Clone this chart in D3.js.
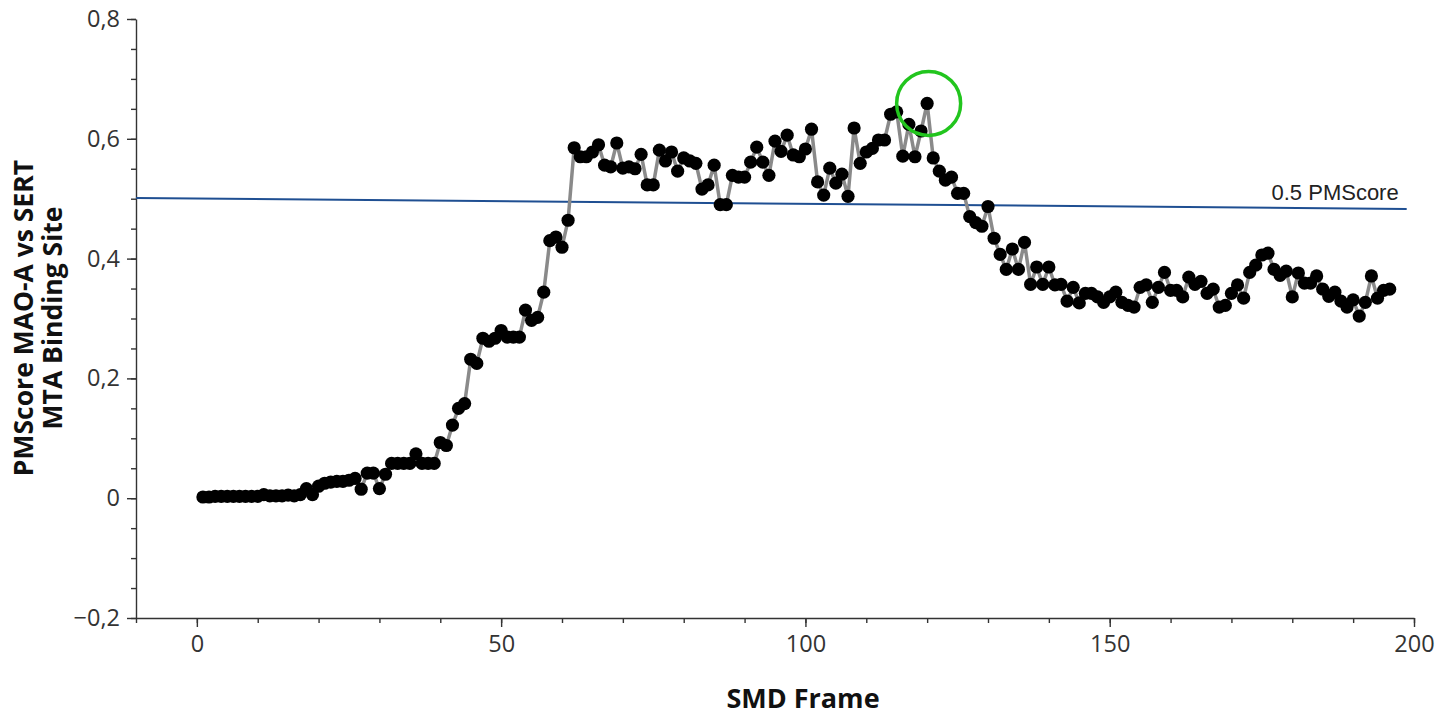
<!DOCTYPE html>
<html>
<head>
<meta charset="utf-8">
<script src="https://cdn.jsdelivr.net/npm/d3@7"></script>
<style>
  body { margin: 0; background: #fff; }
  svg text { font-family: "Open Sans", "Noto Sans", sans-serif; }
</style>
</head>
<body>
<div id="chart"></div>
<script>
// PMScore per SMD frame (frames 1..196)
const frames = d3.range(1, 197)
const scores = [
  0.002, 0.002, 0.003, 0.003, 0.003, 0.003, 0.003, 0.003, 0.003, 0.003,
  0.006, 0.004, 0.004, 0.004, 0.005, 0.004, 0.006, 0.016, 0.006, 0.020,
  0.025, 0.027, 0.028, 0.028, 0.030, 0.033, 0.015, 0.042, 0.042, 0.016,
  0.040, 0.058, 0.058, 0.058, 0.058, 0.074, 0.058, 0.058, 0.058, 0.093,
  0.088, 0.122, 0.150, 0.158, 0.232, 0.225, 0.267, 0.262, 0.267, 0.280,
  0.269, 0.269, 0.269, 0.314, 0.297, 0.302, 0.344, 0.430, 0.436, 0.419,
  0.464, 0.585, 0.570, 0.570, 0.578, 0.590, 0.556, 0.553, 0.593, 0.551,
  0.553, 0.550, 0.574, 0.523, 0.523, 0.581, 0.563, 0.578, 0.546, 0.568,
  0.563, 0.559, 0.516, 0.523, 0.556, 0.490, 0.490, 0.539, 0.536, 0.536,
  0.561, 0.586, 0.561, 0.539, 0.596, 0.579, 0.606, 0.573, 0.570, 0.583,
  0.616, 0.528, 0.506, 0.551, 0.526, 0.541, 0.504, 0.618, 0.559, 0.578,
  0.584, 0.598, 0.598, 0.641, 0.645, 0.571, 0.624, 0.570, 0.613, 0.659,
  0.568, 0.546, 0.531, 0.536, 0.509, 0.509, 0.470, 0.460, 0.454, 0.487,
  0.434, 0.407, 0.382, 0.416, 0.382, 0.427, 0.357, 0.386, 0.357, 0.386,
  0.356, 0.357, 0.329, 0.352, 0.326, 0.342, 0.342, 0.336, 0.327, 0.336,
  0.344, 0.327, 0.322, 0.319, 0.352, 0.356, 0.327, 0.352, 0.377, 0.347,
  0.347, 0.336, 0.369, 0.357, 0.362, 0.342, 0.349, 0.319, 0.322, 0.342,
  0.356, 0.334, 0.377, 0.389, 0.406, 0.409, 0.382, 0.372, 0.379, 0.336,
  0.376, 0.359, 0.359, 0.371, 0.349, 0.337, 0.344, 0.329, 0.319, 0.331,
  0.304, 0.327, 0.371, 0.334, 0.347, 0.349
]
// threshold line as drawn (slightly tilted in the original)
const refFrames = [-10, 198.8]
const refScores = [0.501, 0.483]
const refLabel = "0.5 PMScore"
const highlightFrame = 120

const yTicks = [-0.2, 0, 0.2, 0.4, 0.6, 0.8]
const xTicks = [0, 50, 100, 150, 200]

const width = 1453, height = 715

const svg = d3.select("#chart")
    .append("svg")
    .attr("width", width)
    .attr("height", height)

const x = d3.scaleLinear().domain([-10, 200]).range([136, 1414])
const y = d3.scaleLinear().domain([-0.2, 0.8]).range([618, 19])

const loc = d3.formatLocale({ decimal: ",", thousands: ".", grouping: [3], currency: ["", ""], minus: "\u2212" })
const fmt = loc.format(".1f")

// minor ticks first
svg.append("g")
    .attr("transform", "translate(0,618)")
    .call(d3.axisBottom(x).tickValues(d3.range(-10, 201, 10)).tickSize(5).tickFormat(""))
    .call(g => g.select(".domain").remove())
svg.append("g")
    .attr("transform", "translate(136,0)")
    .call(d3.axisLeft(y).tickValues(d3.range(-0.2, 0.801, 0.05)).tickSize(5).tickFormat(""))
    .call(g => g.select(".domain").remove())

// major axes
svg.append("g")
    .attr("transform", "translate(0,618)")
    .call(d3.axisBottom(x).tickValues(xTicks).tickSizeInner(9).tickSizeOuter(0).tickPadding(8))
svg.append("g")
    .attr("transform", "translate(136,0)")
    .call(d3.axisLeft(y).tickValues(yTicks).tickSizeInner(9).tickSizeOuter(0).tickPadding(7)
        .tickFormat(d => d === 0 ? "0" : fmt(d)))

svg.selectAll(".domain, .tick line").attr("stroke", "#333").attr("stroke-width", 1.4)
svg.selectAll(".tick text")
    .style("font-family", "'Open Sans', sans-serif")
    .attr("font-size", 23.5)
    .attr("fill", "#333")

// reference line
svg.append("path")
    .datum(d3.zip(refFrames, refScores))
    .attr("fill", "none")
    .attr("stroke", "#1f4f92")
    .attr("stroke-width", 2)
    .attr("d", d3.line().x(d => x(d[0])).y(d => y(d[1])))

svg.append("text")
    .attr("x", x(refFrames[1]) - 8)
    .attr("y", y(refScores[1]) - 9)
    .attr("text-anchor", "end")
    .style("font-family", "'Liberation Sans', Arial, sans-serif")
    .attr("font-size", 22)
    .attr("fill", "#222")
    .text(refLabel)

const data = frames.map((f, i) => ({ frame: f, score: scores[i] }))

// series line
svg.append("path")
    .datum(data)
    .attr("fill", "none")
    .attr("stroke", "#8a8a8a")
    .attr("stroke-width", 3.5)
    .attr("d", d3.line().x(d => x(d.frame)).y(d => y(d.score)))

svg.append("g")
    .selectAll("circle")
    .data(data)
    .join("circle")
    .attr("cx", d => x(d.frame))
    .attr("cy", d => y(d.score))
    .attr("r", 6.6)
    .attr("fill", "#000")

// highlight the peak
const peak = data.find(d => d.frame === highlightFrame)
svg.append("circle")
    .attr("cx", x(peak.frame) + 1.5)
    .attr("cy", y(peak.score))
    .attr("r", 32)
    .attr("fill", "none")
    .attr("stroke", "#22c51e")
    .attr("stroke-width", 3.5)

// axis titles
svg.append("text")
    .attr("transform", "translate(33,318) rotate(-90)")
    .attr("text-anchor", "middle")
    .attr("font-weight", "bold")
    .attr("font-size", 26.5)
    .attr("fill", "#111")
    .text("PMScore MAO-A vs SERT")
svg.append("text")
    .attr("transform", "translate(62,318) rotate(-90)")
    .attr("text-anchor", "middle")
    .attr("font-weight", "bold")
    .attr("font-size", 26.5)
    .attr("fill", "#111")
    .text("MTA Binding Site")

svg.append("text")
    .attr("x", 803)
    .attr("y", 708)
    .attr("text-anchor", "middle")
    .attr("font-weight", "bold")
    .attr("font-size", 27)
    .attr("fill", "#111")
    .text("SMD Frame")
</script>
</body>
</html>
